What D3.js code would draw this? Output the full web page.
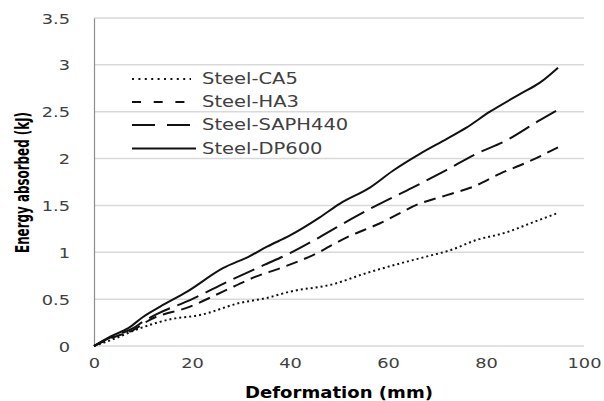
<!DOCTYPE html>
<html><head><meta charset="utf-8">
<script src="https://cdn.jsdelivr.net/npm/d3@7"></script>
<style>body{margin:0;background:#fff}svg{display:block}</style>
</head><body>
<svg id="c" width="604" height="401"></svg>
<script>
const seriesNames = ["Steel-CA5","Steel-HA3","Steel-SAPH440","Steel-DP600"];
const xTicks = [0,20,40,60,80,100];
const yTicks = [0,0.5,1,1.5,2,2.5,3,3.5];
const ca5 = [[0,0],[3.3,0.06],[9.4,0.19],[16,0.29],[21.6,0.33],[29.8,0.46],[35,0.51],[40,0.58],[48.8,0.66],[55.7,0.78],[62.4,0.88],[69,0.97],[72.6,1.02],[78,1.13],[84,1.21],[89.6,1.32],[94.7,1.42]];
const ha3 = [[0,0],[3.3,0.08],[8,0.17],[11.4,0.28],[19.6,0.42],[26.3,0.58],[33,0.74],[38,0.83],[44.7,0.97],[51.6,1.16],[58.4,1.31],[66.5,1.52],[72,1.61],[77.4,1.70],[82.9,1.84],[88.4,1.96],[94.7,2.12]];
const saph440 = [[0,0],[3.3,0.09],[8,0.19],[10,0.26],[12.8,0.34],[19.6,0.49],[27.8,0.70],[34.5,0.86],[40,0.99],[46,1.16],[53,1.37],[58.4,1.52],[65,1.69],[72,1.88],[78,2.05],[84,2.19],[91,2.41],[94.7,2.52]];
const dp600 = [[0,0],[3.3,0.1],[7,0.19],[10,0.31],[13.5,0.42],[19,0.58],[26.3,0.83],[31.8,0.96],[35.3,1.06],[40,1.18],[46,1.37],[50.2,1.52],[56.3,1.69],[61,1.87],[66.5,2.05],[72,2.21],[76,2.33],[80.8,2.50],[87,2.69],[91,2.81],[94.7,2.97]];
const seriesData = [ca5, ha3, saph440, dp600];
const plotDash = ["2,3","12,7","23,8",null];
const legendDash = ["2,4.4","9,12.7","23,12",null];

const svg = d3.select("#c");
const x = d3.scaleLinear().domain([0,100]).range([94,584]);
const y = d3.scaleLinear().domain([0,3.5]).range([346,18]);
const k = 1.27;
const txtCol = "#404040";
const font = "'DejaVu Sans', Verdana, sans-serif";

svg.append("g").selectAll("line").data(yTicks).join("line")
  .attr("x1", x(0)).attr("x2", x(100))
  .attr("y1", d=>y(d)).attr("y2", d=>y(d))
  .attr("stroke","#d9d9d9").attr("stroke-width",1.5);

const ya = svg.append("g").attr("transform",`translate(${x(0)},0)`)
  .call(d3.axisLeft(y).tickValues(yTicks).tickSize(0).tickPadding(24).tickFormat(d3.format("")));
ya.select(".domain").attr("stroke","#8c8c8c").attr("stroke-width",1.2);
ya.selectAll("text").attr("font-family",font).attr("font-size",14).attr("fill",txtCol).attr("dy","0.36em");

const xa = svg.append("g").attr("transform",`translate(0,${y(0)})`)
  .call(d3.axisBottom(x).tickValues(xTicks).tickSize(0).tickPadding(17));
xa.select(".domain").remove();
xa.selectAll("text").attr("font-family",font).attr("font-size",14).attr("fill",txtCol).attr("dy","0.36em");

svg.selectAll(".tick text").each(function(){
  const w = this.getComputedTextLength();
  d3.select(this).attr("textLength", w*k).attr("lengthAdjust","spacingAndGlyphs");
});

const line = d3.line().x(d=>x(d[0])).y(d=>y(d[1])).curve(d3.curveMonotoneX);
svg.append("g").selectAll("path").data(seriesData).join("path")
  .attr("d", line).attr("fill","none").attr("stroke","#111")
  .attr("stroke-width",2)
  .attr("stroke-dasharray",(d,i)=>plotDash[i]);

const lg = svg.append("g");
const rowY = [79,102,125,148.5];
seriesNames.forEach((n,i)=>{
  lg.append("line").attr("x1",132).attr("x2",i===3?196:(i===0?191:190))
    .attr("y1",rowY[i]).attr("y2",rowY[i])
    .attr("stroke","#111").attr("stroke-width",2)
    .attr("stroke-dasharray",legendDash[i]);
  const t = lg.append("text").attr("x",202).attr("y",rowY[i]).attr("dy","0.36em")
    .attr("font-family",font).attr("font-size",15).attr("fill",txtCol).text(n);
  const w = t.node().getComputedTextLength();
  t.attr("textLength", w*1.3).attr("lengthAdjust","spacingAndGlyphs");
});

svg.append("text").attr("x",339).attr("y",393).attr("dy","0.36em").attr("text-anchor","middle")
  .attr("font-family",font).attr("font-weight","bold").attr("font-size",15).attr("fill","#000")
  .attr("textLength",188).attr("lengthAdjust","spacingAndGlyphs").text("Deformation (mm)");

svg.append("text").attr("transform",`translate(22,182.5) scale(${k},1) rotate(-90)`)
  .attr("dy","0.36em").attr("text-anchor","middle")
  .attr("font-family","'DejaVu Sans Condensed','DejaVu Sans',sans-serif").attr("font-stretch","condensed")
  .attr("font-weight","bold").attr("font-size",15.5).attr("fill","#000")
  .attr("textLength",141).attr("lengthAdjust","spacingAndGlyphs").text("Energy absorbed (kJ)");
</script>
</body></html>
